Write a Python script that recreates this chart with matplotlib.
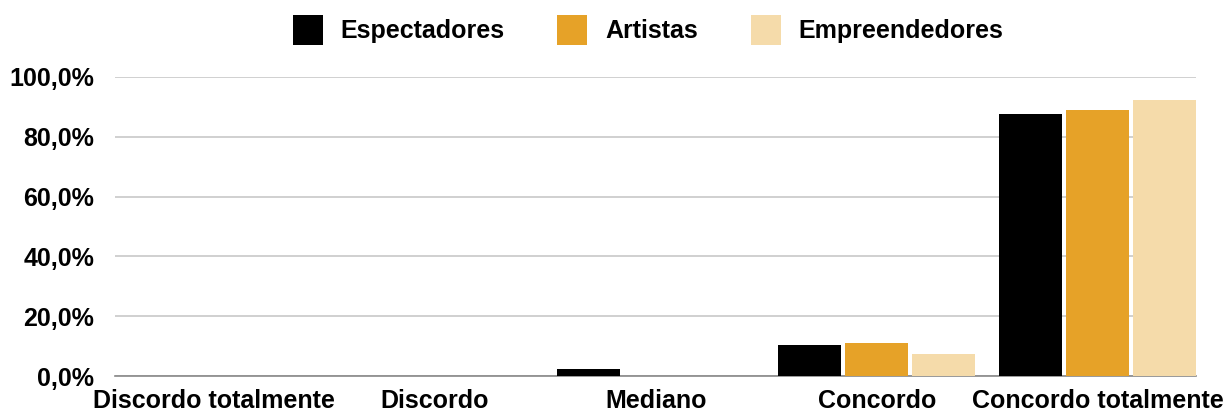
import matplotlib.pyplot as plt
import numpy as np
from matplotlib.ticker import FuncFormatter

plt.rcParams['font.family'] = ['Liberation Sans', 'DejaVu Sans']
plt.rcParams['font.weight'] = 'bold'

# Data
categories = ['Discordo totalmente', 'Discordo', 'Mediano', 'Concordo', 'Concordo totalmente']
series = ['Espectadores', 'Artistas', 'Empreendedores']
espectadores = [0.0, 0.0, 2.2, 10.4, 87.6]
artistas = [0.0, 0.0, 0.0, 11.1, 88.8]
empreendedores = [0.0, 0.0, 0.0, 7.4, 92.4]
colors = ['#000000', '#E6A228', '#F5DBAA']

fig = plt.figure(figsize=(12.25, 4.12), dpi=100)
ax = fig.add_axes([115 / 1225, 36 / 412, (1196 - 115) / 1225, (376 - 77) / 412])

x = np.arange(len(categories))
step = 0.303
width = 0.285
for i, (name, vals) in enumerate(zip(series, [espectadores, artistas, empreendedores])):
    ax.bar(x + (i - 1) * step, vals, width, color=colors[i], label=name, zorder=3)

ax.set_xlim(-0.447, 4.445)
ax.set_ylim(0, 100)
ax.set_yticks(np.arange(0, 101, 20))
ax.yaxis.set_major_formatter(FuncFormatter(lambda v, p: f'{v:.1f}%'.replace('.', ',')))
ax.grid(axis='y', color='#c8c8c8', linewidth=1.2, zorder=0)
ax.set_xticks(x)
ax.set_xticklabels(categories)
ax.tick_params(axis='both', length=0, labelsize=18)
ax.tick_params(axis='x', pad=9)
ax.tick_params(axis='y', pad=15)
for s in ['top', 'right', 'left']:
    ax.spines[s].set_visible(False)
ax.spines['bottom'].set_color('#888888')
ax.spines['bottom'].set_linewidth(1.2)

fig.legend(loc='center', bbox_to_anchor=(0.529, 0.927), ncol=3, frameon=False,
           fontsize=18, handlelength=1.2, handleheight=1.45, columnspacing=2.1,
           handletextpad=0.72)

fig.savefig('out.png', dpi=100)
